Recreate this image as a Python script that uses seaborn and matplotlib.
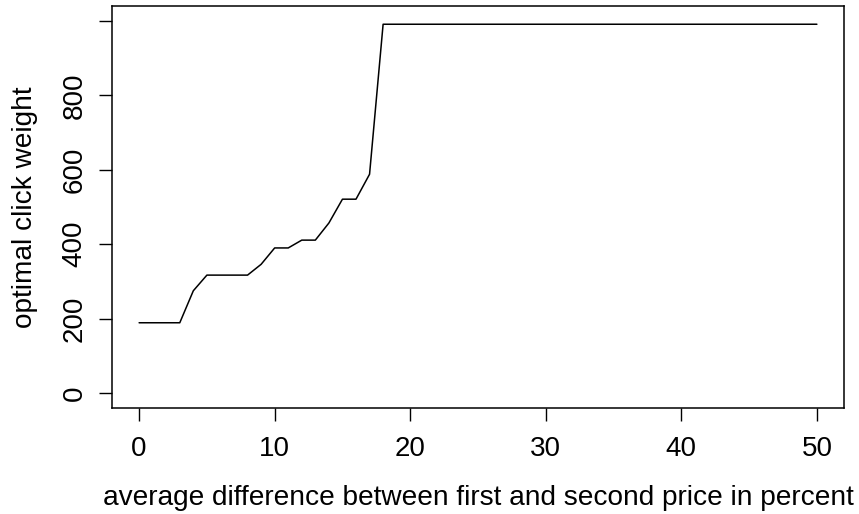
import matplotlib
matplotlib.use("Agg")
import matplotlib.pyplot as plt
import seaborn as sns
import pandas as pd

# average first/second price gap (percent) and the resulting optimal click weight
price_gap = list(range(0, 51))
click_weight = [189, 189, 189, 189, 275, 317, 317, 317, 317, 346,
                390, 390, 411, 411, 457, 521, 521, 588] + [991] * 33

x_ticks = [0, 10, 20, 30, 40, 50]
y_ticks = [0, 200, 400, 600, 800, 1000]
y_tick_labels = ["0", "200", "400", "600", "800", ""]

sns.set_style("white")
plt.rcParams["font.family"] = ["Liberation Sans", "DejaVu Sans"]
plt.rcParams["text.color"] = "black"
plt.rcParams["axes.labelcolor"] = "black"

df = pd.DataFrame({"gap": price_gap, "weight": click_weight})

fig = plt.figure(figsize=(8.59, 5.14), dpi=100)
ax = fig.add_axes([112 / 859, 1 - 408 / 514, 732 / 859, 402 / 514])

sns.lineplot(data=df, x="gap", y="weight", ax=ax, color="black",
             linewidth=1.1, estimator=None)

ax.set_xlim(-2, 52)
ax.set_ylim(-40, 1040)
ax.set_xticks(x_ticks)
ax.set_yticks(y_ticks)
ax.set_xticklabels([str(t) for t in x_ticks])
ax.set_yticklabels(y_tick_labels, rotation=90, va="center")

for s in ax.spines.values():
    s.set_color("black")
    s.set_linewidth(1.1)

ax.tick_params(axis="both", which="major", direction="out", length=9.4,
               width=1.0, color="black", labelsize=20, labelcolor="black",
               bottom=True, left=True)
ax.tick_params(axis="x", pad=10.6)
ax.tick_params(axis="y", pad=8.2)

ax.set_xlabel("average difference between first and second price in percent",
              fontsize=20.2, color="black")
ax.set_ylabel("optimal click weight", fontsize=20.2, color="black")
ax.xaxis.label.set_va("center")
ax.yaxis.label.set_va("center")
ax.xaxis.set_label_coords(0.5, (408 - 498) / 402)
ax.yaxis.set_label_coords((25 - 112) / 732, 0.5)

fig.savefig("out.png", dpi=100)
